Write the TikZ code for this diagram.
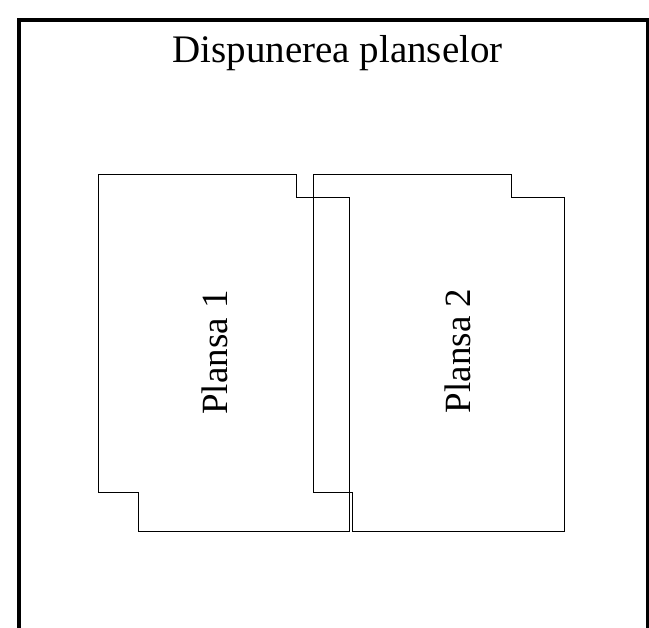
\documentclass[tikz,border=0pt]{standalone}
\usepackage{fontspec}
\setmainfont{Liberation Serif}
\usetikzlibrary{positioning}

\begin{document}
\begin{tikzpicture}
[x=1pt,y=-1pt,
frame/.style={line width=4pt,black},
sheet/.style={line width=.9pt,black,line join=miter},
title/.style={inner sep=0pt,anchor=base,font=\fontsize{39}{44}\selectfont},
sheetlabel/.style={inner sep=0pt,anchor=base,rotate=90,font=\fontsize{37}{42}\selectfont}]
%
\useasboundingbox (0,0) rectangle (649,628);
\draw[frame] (19,20) rectangle (648,660);
%
\node (titlu) [title] at (337.5,62.7) {Dispunerea planselor};
%
%% plansa 1
\draw[sheet] (98.3,174) -- (296.7,174) -- (296.7,197.7) -- (349.3,197.7)
  -- (349.3,531) -- (138,531) -- (138,492.5) -- (98.3,492.5) -- cycle;
\node (p1) [sheetlabel] at (227,352.5) {Plansa 1};
%
%% plansa 2
\draw[sheet] (313.3,174) -- (511.7,174) -- (511.7,197.7) -- (564.3,197.7)
  -- (564.3,531) -- (352.7,531) -- (352.7,492.5) -- (313.3,492.5) -- cycle;
\node (p2) [sheetlabel] at (470,351) {Plansa 2};
\end{tikzpicture}
\end{document}
